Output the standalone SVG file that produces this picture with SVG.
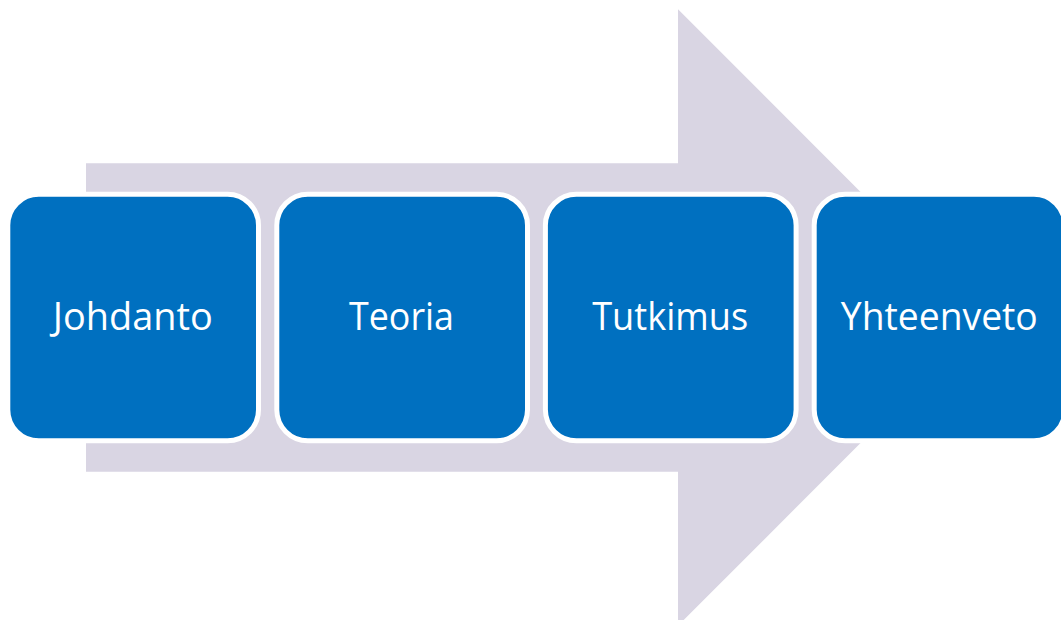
<svg xmlns="http://www.w3.org/2000/svg" width="1061" height="620" viewBox="0 0 1061 620">
  <style>
    .box { fill: #0070C0; stroke: #FFFFFF; stroke-width: 5; }
    .lbl { fill: #FFFFFF; font-family: "Open Sans", "Liberation Sans", sans-serif; font-size: 38px; text-anchor: middle; }
  </style>
  <rect x="0" y="0" width="1061" height="620" fill="#FFFFFF"/>
  <g id="connectors">
    <polygon id="arrow" points="86,163.3 678,163.3 678,9.3 986,317.5 678,625.7 678,471.7 86,471.7" fill="#D9D5E3"/>
  </g>
  <g id="node-johdanto">
    <rect class="box" x="7.8" y="194.3" width="250.7" height="246.5" rx="31" ry="31"/>
    <text class="lbl" x="132.8" y="330" textLength="160" lengthAdjust="spacingAndGlyphs">Johdanto</text>
  </g>
  <g id="node-teoria">
    <rect class="box" x="276.8" y="194.3" width="250.7" height="246.5" rx="31" ry="31"/>
    <text class="lbl" x="401.5" y="330" textLength="105" lengthAdjust="spacingAndGlyphs">Teoria</text>
  </g>
  <g id="node-tutkimus">
    <rect class="box" x="545.4" y="194.3" width="250.7" height="246.5" rx="31" ry="31"/>
    <text class="lbl" x="670.2" y="330" textLength="156" lengthAdjust="spacingAndGlyphs">Tutkimus</text>
  </g>
  <g id="node-yhteenveto">
    <rect class="box" x="814.2" y="194.3" width="250.7" height="246.5" rx="31" ry="31"/>
    <text class="lbl" x="939.3" y="330" textLength="197" lengthAdjust="spacingAndGlyphs">Yhteenveto</text>
  </g>
</svg>
